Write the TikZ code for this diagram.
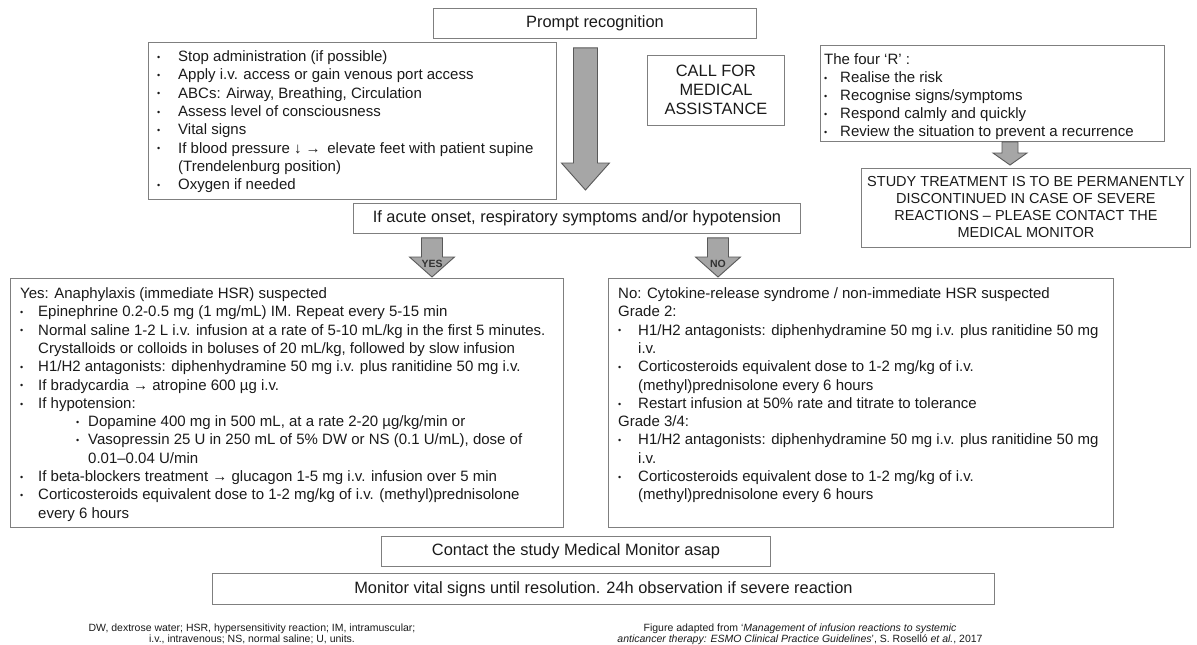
\documentclass[tikz,border=0pt]{standalone}
\usepackage{fontspec}
\setmainfont{Liberation Sans}
\usetikzlibrary{calc}

\definecolor{boxgray}{HTML}{7F7F7F}
\definecolor{arrowfill}{HTML}{A6A6A6}
\definecolor{arrowline}{HTML}{595959}
\definecolor{textgray}{HTML}{1A1A1A}

\newcommand{\bodyfont}{\fontsize{15}{18.3}\selectfont}
\newcommand{\bigfont}{\fontsize{16.4}{19}\selectfont}
\newcommand{\notefont}{\fontsize{10.5}{11.5}\selectfont}
\newcommand{\bult}[1]{\makebox[#1][l]{\raisebox{1.3pt}{\fontsize{9}{9}\selectfont •}}}
% fat downward arrow: top, tip, half shaft, half head, head length
\newcommand{\fatdown}[5]{%
  \draw[fatarr] let \p1=(#1), \p2=(#2) in
    (\x1-#3,\y1) -- (\x1+#3,\y1) -- (\x1+#3,\y2+#5) -- (\x1+#4,\y2+#5)
    -- (\x1,\y2) -- (\x1-#4,\y2+#5) -- (\x1-#3,\y2+#5) -- cycle;}

\begin{document}
\begin{tikzpicture}[x=1pt,y=-1pt,
  box/.style={draw=boxgray,line width=.9pt,inner sep=0pt,anchor=north west},
  txt/.style={inner sep=0pt,anchor=base west,text=textgray},
  fatarr/.style={draw=arrowline,fill=arrowfill,line width=.9pt,line join=miter},
  lbl/.style={inner sep=0pt,text=black!80,font=\fontsize{10.5}{11}\selectfont\bfseries}]
\useasboundingbox (0,0) rectangle (1197,645);

% top row
\node[box,minimum width=323pt,minimum height=30pt,font=\bigfont,text=textgray] (prompt) at (433,8) {Prompt recognition};
\node[box,minimum width=408pt,minimum height=157pt] (first) at (148,42) {};
\node[txt] (firsttxt) at ($(first.north west)+(9,19.5)$) {\parbox[t]{400pt}{\bodyfont
  \bult{21pt}Stop administration (if possible)\\
  \bult{21pt}Apply i.v. access or gain venous port access\\
  \bult{21pt}ABCs: Airway, Breathing, Circulation\\
  \bult{21pt}Assess level of consciousness\\
  \bult{21pt}Vital signs\\
  \bult{21pt}If blood pressure ↓ →\, elevate feet with patient supine\\
  \hspace*{21pt}(Trendelenburg position)\\
  \bult{21pt}Oxygen if needed}};
\node[box,minimum width=137pt,minimum height=70pt] (call) at (647,55) {};
\node[txt,anchor=base] (calltxt) at ($(call.north)+(0,21)$) {\parbox[t]{130pt}{\centering\fontsize{16.4}{19}\selectfont
  CALL FOR\\MEDICAL\\ASSISTANCE}};
\node[box,minimum width=344pt,minimum height=96pt] (fourr) at (820,45) {};
\node[txt] (fourrtxt) at ($(fourr.north west)+(4,19.5)$) {\parbox[t]{340pt}{\fontsize{15}{18}\selectfont
  The four ‘R’ :\\
  \bult{16pt}Realise the risk\\
  \bult{16pt}Recognise signs/symptoms\\
  \bult{16pt}Respond calmly and quickly\\
  \bult{16pt}Review the situation to prevent a recurrence}};
\node[box,minimum width=329pt,minimum height=79pt] (study) at (861,168) {};
\node[txt,anchor=base] (studytxt) at ($(study.north)+(0,18)$) {\parbox[t]{325pt}{\centering\fontsize{14.5}{17}\selectfont
  STUDY TREATMENT IS TO BE PERMANENTLY\\
  DISCONTINUED IN CASE OF SEVERE\\
  REACTIONS – PLEASE CONTACT THE\\
  MEDICAL MONITOR}};

% decision
\node[box,minimum width=447pt,minimum height=30pt,font=\bigfont,text=textgray] (acute) at (353,203)
  {If acute onset, respiratory symptoms and/or hypotension};

% the two branches
\node[box,minimum width=553pt,minimum height=249pt] (yesbox) at (10,278) {};
\node[txt] (yestxt) at ($(yesbox.north west)+(10,20.5)$) {\parbox[t]{545pt}{\bodyfont
  Yes: Anaphylaxis (immediate HSR) suspected\\
  \bult{18pt}Epinephrine 0.2-0.5 mg (1 mg/mL) IM. Repeat every 5-15 min\\
  \bult{18pt}Normal saline 1-2 L i.v. infusion at a rate of 5-10 mL/kg in the first 5 minutes.\\
  \hspace*{18pt}Crystalloids or colloids in boluses of 20 mL/kg, followed by slow infusion\\
  \bult{18pt}H1/H2 antagonists: diphenhydramine 50 mg i.v. plus ranitidine 50 mg i.v.\\
  \bult{18pt}If bradycardia → atropine 600 µg i.v.\\
  \bult{18pt}If hypotension:\\
  \hspace*{56pt}\bult{12pt}Dopamine 400 mg in 500 mL, at a rate 2-20 µg/kg/min or\\
  \hspace*{56pt}\bult{12pt}Vasopressin 25 U in 250 mL of 5\% DW or NS (0.1 U/mL), dose of\\
  \hspace*{68pt}0.01–0.04 U/min\\
  \bult{18pt}If beta-blockers treatment → glucagon 1-5 mg i.v. infusion over 5 min\\
  \bult{18pt}Corticosteroids equivalent dose to 1-2 mg/kg of i.v. (methyl)prednisolone\\
  \hspace*{18pt}every 6 hours}};
\node[box,minimum width=505pt,minimum height=249pt] (nobox) at (608,278) {};
\node[txt] (notxt) at ($(nobox.north west)+(10,20.5)$) {\parbox[t]{495pt}{\bodyfont
  No: Cytokine-release syndrome / non-immediate HSR suspected\\
  Grade 2:\\
  \bult{20pt}H1/H2 antagonists: diphenhydramine 50 mg i.v. plus ranitidine 50 mg\\
  \hspace*{20pt}i.v.\\
  \bult{20pt}Corticosteroids equivalent dose to 1-2 mg/kg of i.v.\\
  \hspace*{20pt}(methyl)prednisolone every 6 hours\\
  \bult{20pt}Restart infusion at 50\% rate and titrate to tolerance\\
  Grade 3/4:\\
  \bult{20pt}H1/H2 antagonists: diphenhydramine 50 mg i.v. plus ranitidine 50 mg\\
  \hspace*{20pt}i.v.\\
  \bult{20pt}Corticosteroids equivalent dose to 1-2 mg/kg of i.v.\\
  \hspace*{20pt}(methyl)prednisolone every 6 hours}};

% bottom
\node[box,minimum width=389pt,minimum height=30pt,font=\bigfont,text=textgray] (contact) at (381,536)
  {Contact the study Medical Monitor asap};
\node[box,minimum width=782pt,minimum height=31pt,font=\bigfont,text=textgray] (monitor) at (212,573)
  {Monitor vital signs until resolution. 24h observation if severe reaction};
\node[txt,anchor=base] (abbrev) at (252,631) {\parbox[t]{400pt}{\centering\notefont
  DW, dextrose water; HSR, hypersensitivity reaction; IM, intramuscular;\\
  i.v., intravenous; NS, normal saline; U, units.}};
\node[txt,anchor=base] (source) at (800,631) {\parbox[t]{420pt}{\centering\notefont
  Figure adapted from ‘\textit{Management of infusion reactions to systemic}\\
  \textit{anticancer therapy: ESMO Clinical Practice Guidelines}’, S. Roselló \textit{et al.}, 2017}};

% fat arrows
\coordinate (bigtop) at ($(prompt.south)+(-9.5,9)$);
\coordinate (bigtip) at ($(acute.north)+(8.5,-13)$);
\fatdown{bigtop}{bigtip}{12pt}{24pt}{27pt}
\coordinate (yestop) at ($(acute.south west)+(79,4)$);
\coordinate (notop) at ($(acute.south west)+(365,4)$);
\coordinate (yestip) at ($(yestop |- yesbox.north)+(0,-1)$);
\coordinate (notip) at ($(notop |- nobox.north)+(0,-1)$);
\foreach \br/\word in {yes/YES,no/NO}{%
  \fatdown{\br top}{\br tip}{10.5pt}{22.5pt}{20pt}
  \node[lbl] (\br lbl) at ($(\br tip)+(0,-13.5)$) {\word};
}
\coordinate (rtop) at ($(fourr.south west)+(190,0)$);
\coordinate (rtip) at ($(study.north)+(-15.5,-3)$);
\fatdown{rtop}{rtip}{8pt}{17pt}{12pt}
\end{tikzpicture}
\end{document}
